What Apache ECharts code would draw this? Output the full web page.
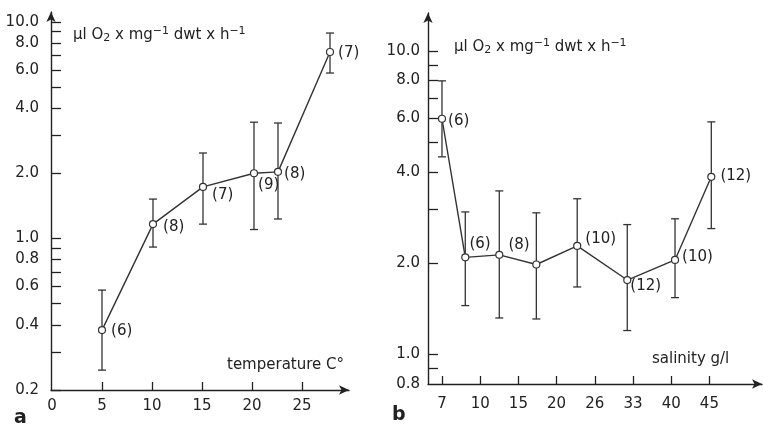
<!DOCTYPE html>
<html lang="en">
<head>
<meta charset="UTF-8">
<title>Oxygen consumption vs temperature and salinity</title>
<script src="https://cdn.jsdelivr.net/npm/echarts@6/dist/echarts.min.js"></script>
<style>
  html, body { margin: 0; padding: 0; background: #fff; }
  #chart { width: 763px; height: 429px; }
</style>
</head>
<body>
<div id="chart"></div>
<script>
  // panel a: temperature
  var tempX = [5, 10.1, 15.1, 20.2, 22.6, 27.8];
  var tempMean = [0.378, 1.165, 1.73, 2.0, 2.03, 7.25];
  var tempHigh = [0.578, 1.52, 2.48, 3.44, 3.41, 8.87];
  var tempLow = [0.247, 0.913, 1.165, 1.10, 1.23, 5.80];
  var tempN = ['(6)', '(8)', '(7)', '(9)', '(8)', '(7)'];
  var tempTickLabels = [0, 5, 10, 15, 20, 25];

  // panel b: salinity (x is the position on the evenly spaced salinity scale)
  var salCategories = ['7', '10', '15', '20', '26', '33', '40', '45'];
  var salX = [0, 0.61, 1.5, 2.47, 3.54, 4.85, 6.1, 7.05];
  var salMean = [5.98, 2.09, 2.13, 1.98, 2.28, 1.76, 2.05, 3.85];
  var salHigh = [7.97, 2.95, 3.46, 2.93, 3.26, 2.68, 2.80, 5.84];
  var salLow = [4.48, 1.45, 1.32, 1.31, 1.67, 1.20, 1.54, 2.60];
  var salN = ['(6)', '(6)', '(8)', '', '(10)', '(12)', '(10)', '(12)'];

  // log y axes
  var yLabelsA = [0.2, 0.4, 0.6, 0.8, 1, 2, 4, 6, 8, 10];
  var yTicksA = [0.2, 0.3, 0.4, 0.5, 0.6, 0.7, 0.8, 0.9, 1, 2, 3, 4, 5, 6, 7, 8, 9, 10];
  var yLabelsB = [0.8, 1, 2, 4, 6, 8, 10];
  var yTicksB = [0.9, 1, 2, 3, 4, 5, 6, 7, 8, 9, 10];

  // where the "(n)" labels sit relative to the default right position
  var tempLabelOffset = [[0, 1], [1, 3], [0, 8], [-5, 12], [-3, 2], [-1, 1]];
  var salLabelOffset = [[-3, 2], [-5, -13], [0, -10], [0, 0], [-1, -7], [-6, 6], [-2, -3], [0, -1]];

  var FONT = 'DejaVu Sans';
  var INK = '#222';
  var LINE = '#333';

  function lg(v) { return Math.log10(v); }

  function errorSeries(idx, xs, lo, hi) {
    return {
      type: 'custom',
      xAxisIndex: idx,
      yAxisIndex: idx,
      z: 1,
      silent: true,
      encode: { x: 0, y: [1, 2] },
      data: xs.map(function (x, i) { return [x, lg(lo[i]), lg(hi[i])]; }),
      renderItem: function (params, api) {
        var top = api.coord([api.value(0), api.value(2)]);
        var bot = api.coord([api.value(0), api.value(1)]);
        var w = 4;
        var st = { stroke: LINE, lineWidth: 1.3, fill: null };
        return {
          type: 'group',
          children: [
            { type: 'line', shape: { x1: top[0], y1: top[1], x2: bot[0], y2: bot[1] }, style: st },
            { type: 'line', shape: { x1: top[0] - w, y1: top[1], x2: top[0] + w, y2: top[1] }, style: st },
            { type: 'line', shape: { x1: bot[0] - w, y1: bot[1], x2: bot[0] + w, y2: bot[1] }, style: st }
          ]
        };
      }
    };
  }

  function meanSeries(idx, xs, means, names, offsets) {
    return {
      type: 'line',
      xAxisIndex: idx,
      yAxisIndex: idx,
      z: 3,
      symbol: 'circle',
      symbolSize: 7,
      lineStyle: { color: LINE, width: 1.4 },
      itemStyle: { color: '#fff', borderColor: LINE, borderWidth: 1.2 },
      emphasis: { disabled: true },
      label: { color: INK, fontFamily: FONT, fontSize: 15 },
      data: xs.map(function (x, i) {
        return {
          value: [x, lg(means[i])],
          label: {
            show: names[i] !== '',
            formatter: names[i],
            position: 'right',
            distance: 5,
            offset: offsets[i]
          }
        };
      })
    };
  }

  function axisLine() {
    return {
      onZero: false,
      symbol: ['none', 'arrow'],
      symbolSize: [7, 10],
      lineStyle: { color: INK, width: 1.4 }
    };
  }

  var labelText = { color: INK, fontFamily: FONT, fontSize: 15 };

  var unitRich = {
    n: { fontFamily: FONT, fontSize: 15, fontWeight: 'normal', color: INK, lineHeight: 18 },
    sub: { fontFamily: FONT, fontSize: 11, fontWeight: 'normal', color: INK, lineHeight: 18, verticalAlign: 'bottom', padding: [5, 0, 0, 0] },
    sup: { fontFamily: FONT, fontSize: 11, fontWeight: 'normal', color: INK, lineHeight: 18, verticalAlign: 'top', padding: [0, 0, 5, 0] }
  };
  var unitText = '{n|\u00b5l O}{sub|2}{n| x mg}{sup|\u22121}{n| dwt x h}{sup|\u22121}';

  var chart = echarts.init(document.getElementById('chart'), null, { renderer: 'canvas' });

  var option = {
    animation: false,
    backgroundColor: '#fff',
    title: [
      { text: unitText, left: 73, top: 26, padding: 0, textStyle: { fontWeight: 'normal', rich: unitRich } },
      { text: unitText, left: 454, top: 38, padding: 0, textStyle: { fontWeight: 'normal', rich: unitRich } },
      { text: 'temperature C\u00b0', left: 227, top: 358, padding: 0, textStyle: { fontFamily: FONT, fontSize: 15, fontWeight: 'normal', color: INK } },
      { text: 'salinity g/l', left: 652, top: 352, padding: 0, textStyle: { fontFamily: FONT, fontSize: 15, fontWeight: 'normal', color: INK } },
      { text: 'a', left: 14, top: 409, padding: 0, textStyle: { fontFamily: FONT, fontSize: 19, fontWeight: 'bold', color: INK } },
      { text: 'b', left: 392, top: 406, padding: 0, textStyle: { fontFamily: FONT, fontSize: 19, fontWeight: 'bold', color: INK } }
    ],
    grid: [
      { left: 51, top: 12, width: 298, height: 378, outerBoundsMode: 'none' },
      { left: 428, top: 13, width: 334, height: 371, outerBoundsMode: 'none' }
    ],
    xAxis: [
      {
        gridIndex: 0,
        type: 'value',
        min: -0.1,
        max: 29.7,
        axisLine: axisLine(),
        axisTick: { inside: true, length: 8, customValues: [5, 10, 15, 20, 25], lineStyle: { color: INK, width: 1.3 } },
        axisLabel: Object.assign({ customValues: tempTickLabels, margin: 9 }, labelText),
        splitLine: { show: false }
      },
      {
        gridIndex: 1,
        type: 'value',
        min: -0.366,
        max: 8.377,
        axisLine: axisLine(),
        axisTick: { inside: true, length: 8, customValues: [0, 1, 2, 3, 4, 5, 6, 7], lineStyle: { color: INK, width: 1.3 } },
        axisLabel: Object.assign({
          customValues: [0, 1, 2, 3, 4, 5, 6, 7],
          margin: 13,
          formatter: function (v) { return salCategories[Math.round(v)]; }
        }, labelText),
        splitLine: { show: false }
      }
    ],
    yAxis: [
      {
        gridIndex: 0,
        type: 'value',
        min: lg(0.2),
        max: 1.045,
        axisLine: axisLine(),
        axisTick: { inside: true, length: 10, customValues: yTicksA.map(lg), lineStyle: { color: INK, width: 1.3 } },
        axisLabel: Object.assign({
          customValues: yLabelsA.map(lg),
          margin: 12,
          formatter: function (v) { return Math.pow(10, v).toFixed(1); }
        }, labelText),
        splitLine: { show: false }
      },
      {
        gridIndex: 1,
        type: 'value',
        min: lg(0.8),
        max: 1.125,
        axisLine: axisLine(),
        axisTick: { inside: true, length: 10, customValues: yTicksB.map(lg), lineStyle: { color: INK, width: 1.3 } },
        axisLabel: Object.assign({
          customValues: yLabelsB.map(lg),
          margin: 8,
          formatter: function (v) { return Math.pow(10, v).toFixed(1); }
        }, labelText),
        splitLine: { show: false }
      }
    ],
    series: [
      errorSeries(0, tempX, tempLow, tempHigh),
      meanSeries(0, tempX, tempMean, tempN, tempLabelOffset),
      errorSeries(1, salX, salLow, salHigh),
      meanSeries(1, salX, salMean, salN, salLabelOffset)
    ]
  };

  chart.setOption(option);
</script>
</body>
</html>
